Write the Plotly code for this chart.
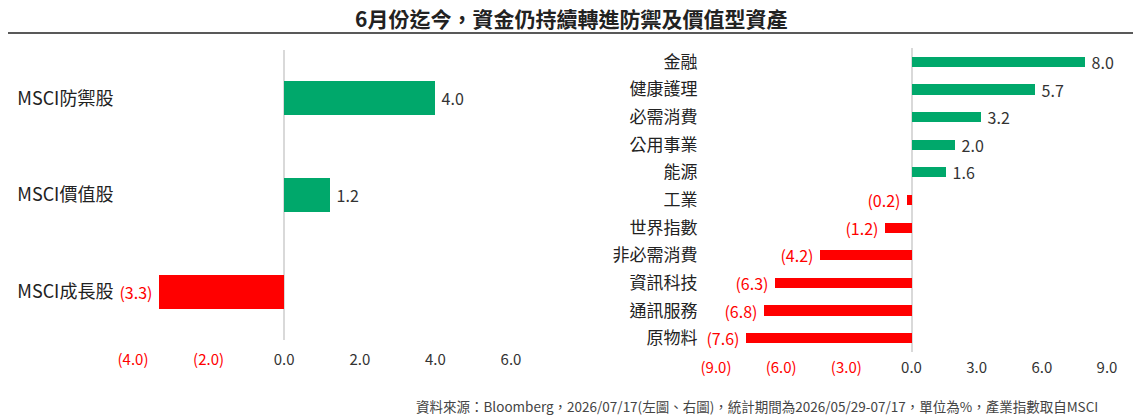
import plotly.graph_objects as go

# left panel: MSCI style indices
style_names = ['MSCI防禦股', 'MSCI價值股', 'MSCI成長股']
style_values = [4.0, 1.2, -3.3]
left_ticks = [-4, -2, 0, 2, 4, 6]

# right panel: sector indices
sector_names = ['金融', '健康護理', '必需消費', '公用事業', '能源', '工業',
                '世界指數', '非必需消費', '資訊科技', '通訊服務', '原物料']
sector_values = [8.0, 5.7, 3.2, 2.0, 1.6, -0.2, -1.2, -4.2, -6.3, -6.8, -7.6]
right_ticks = [-9, -6, -3, 0, 3, 6, 9]

title = '6月份迄今，資金仍持續轉進防禦及價值型資產'
source = '資料來源：Bloomberg，2026/07/17(左圖、右圖)，統計期間為2026/05/29-07/17，單位為%，產業指數取自MSCI'

GREEN = '#00A86B'
RED = '#FF0000'
DARK = '#333333'
FONT = 'Noto Sans CJK TC, Noto Sans, sans-serif'

W, H = 1141, 415
OFF = 8  # page body margin


def px(x):
    return (x - OFF) / W


def py(y):
    return (H - (y - OFF)) / H


def fmt(v):
    # negatives shown in accounting style
    return f'{v:.1f}' if v >= 0 else f'({abs(v):.1f})'


def tick_text(vals):
    out = []
    for v in vals:
        s = fmt(float(v))
        out.append(s if v >= 0 else f'<span style="color:{RED}">{s}</span>')
    return out


fig = go.Figure()

fig.add_trace(go.Bar(
    x=style_values, y=style_names, orientation='h',
    marker=dict(color=[GREEN if v >= 0 else RED for v in style_values], line=dict(width=0)),
    width=0.35,
    text=['\u00a0' + fmt(v) if v >= 0 else fmt(v) + '\u00a0' for v in style_values],
    textposition='outside', cliponaxis=False, constraintext='none',
    textfont=dict(size=16, color=[DARK if v >= 0 else RED for v in style_values], family=FONT),
    xaxis='x', yaxis='y', showlegend=False, hoverinfo='x+y'
))

fig.add_trace(go.Bar(
    x=sector_values, y=sector_names, orientation='h',
    marker=dict(color=[GREEN if v >= 0 else RED for v in sector_values], line=dict(width=0)),
    width=0.37,
    text=['\u00a0' + fmt(v) if v >= 0 else fmt(v) + '\u00a0' for v in sector_values],
    textposition='outside', cliponaxis=False, constraintext='none',
    textfont=dict(size=16, color=[DARK if v >= 0 else RED for v in sector_values], family=FONT),
    xaxis='x2', yaxis='y2', showlegend=False, hoverinfo='x+y'
))

fig.update_layout(
    width=W, height=H,
    margin=dict(l=0, r=0, t=0, b=0),
    paper_bgcolor='white', plot_bgcolor='white',
    font=dict(family=FONT, color=DARK),
    bargap=0,
    xaxis=dict(domain=[px(133), px(511)], range=[-4, 6], automargin=False,
               tickvals=left_ticks, ticktext=tick_text(left_ticks),
               ticks='outside', ticklen=6, tickcolor='rgba(0,0,0,0)',
               tickfont=dict(size=15, color=DARK),
               showgrid=False, showline=False,
               zeroline=True, zerolinecolor='#d9d9d9', zerolinewidth=1.5),
    yaxis=dict(domain=[py(340), py(50)], range=[2.5, -0.5],
               anchor='x', automargin=False,
               categoryorder='array', categoryarray=style_names,
               ticks='outside', ticklen=15, tickcolor='rgba(0,0,0,0)',
               tickfont=dict(size=18, color='#222222'),
               showgrid=False, showline=False, zeroline=False),
    xaxis2=dict(domain=[px(716), px(1107)], range=[-9, 9], anchor='y2', automargin=False,
                tickvals=right_ticks, ticktext=tick_text(right_ticks),
                ticks='outside', ticklen=2, tickcolor='rgba(0,0,0,0)',
                tickfont=dict(size=15, color=DARK),
                showgrid=False, showline=False,
                zeroline=True, zerolinecolor='#d9d9d9', zerolinewidth=1.5),
    yaxis2=dict(domain=[py(352), py(48)], range=[10.5, -0.5],
                anchor='x2', automargin=False,
                categoryorder='array', categoryarray=sector_names,
                ticks='outside', ticklen=14, tickcolor='rgba(0,0,0,0)',
                tickfont=dict(size=17, color='#222222'),
                showgrid=False, showline=False, zeroline=False),
)

# title and divider line
fig.add_annotation(text=f'<b>{title}</b>', x=px(571), y=py(18), xref='paper', yref='paper',
                   showarrow=False, xanchor='center', yanchor='middle', borderpad=0,
                   font=dict(size=21, color='#222222'))
fig.add_shape(type='line', x0=px(5), x1=px(1137), y0=py(33), y1=py(33),
              xref='paper', yref='paper', line=dict(color='#222222', width=1.5))

# source footnote
fig.add_annotation(text=source, x=px(1100), y=py(406), xref='paper', yref='paper',
                   showarrow=False, xanchor='right', yanchor='middle',
                   font=dict(size=13.5, color='#444444'))

fig.write_html('out.html')
